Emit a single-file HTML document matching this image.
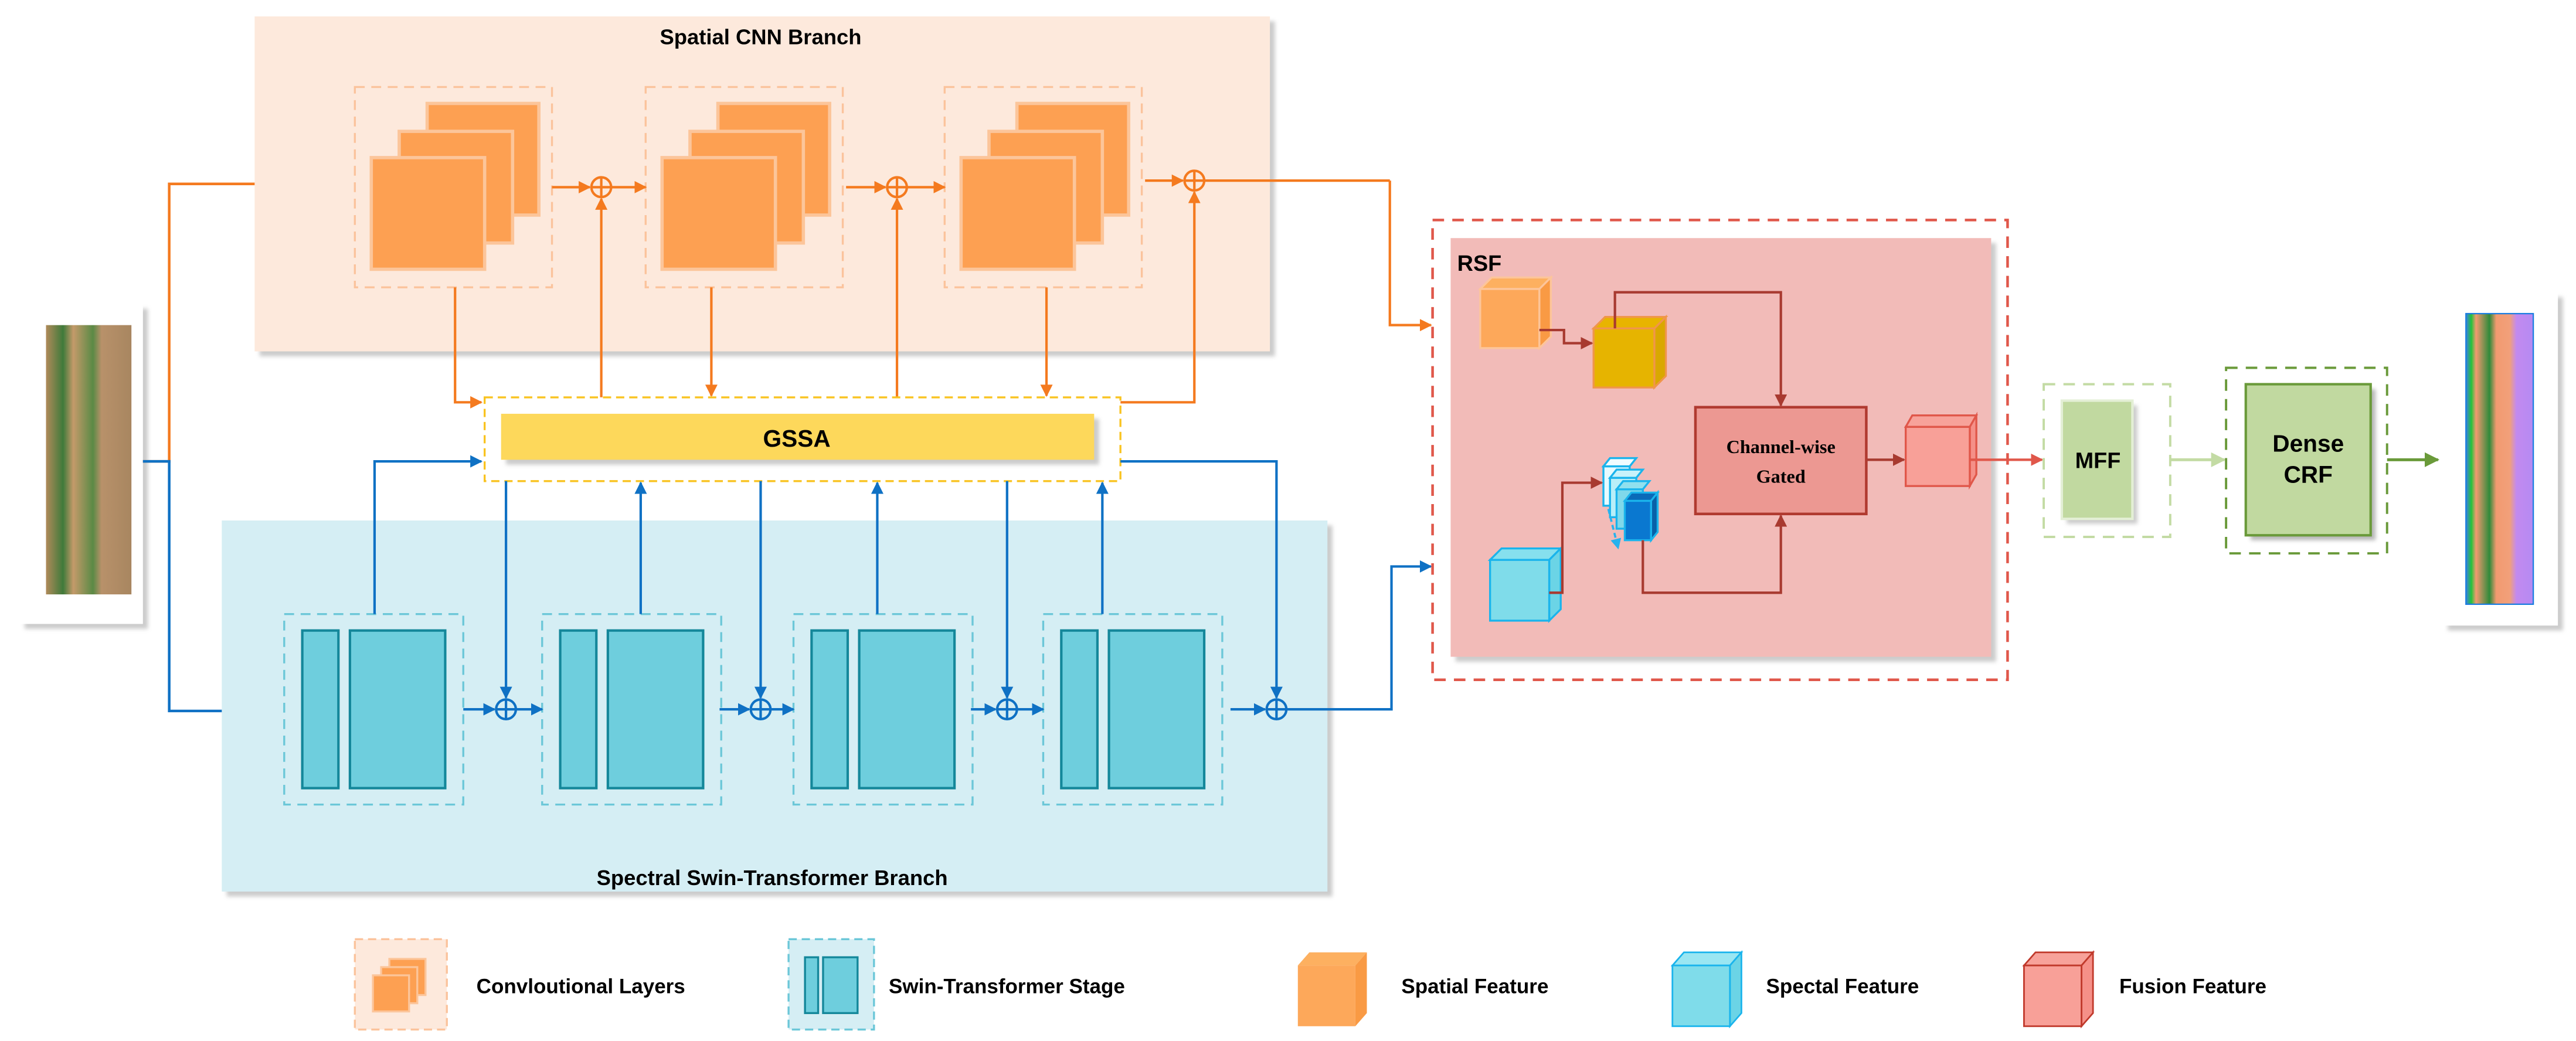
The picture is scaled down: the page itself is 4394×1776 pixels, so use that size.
<!DOCTYPE html>
<html><head><meta charset="utf-8"><style>html,body{margin:0;padding:0;background:#fff}svg{display:block}text{font-family:"Liberation Sans",sans-serif;font-weight:bold}</style></head><body>
<svg width="4394" height="1776" viewBox="0 0 1568 634" preserveAspectRatio="none" xmlns="http://www.w3.org/2000/svg">
<defs>
<marker id="ao" viewBox="0 0 10 10" refX="9" refY="5" markerWidth="5" markerHeight="5" orient="auto"><path d="M0,0L10,5L0,10z" fill="#f47a1f"/></marker>
<marker id="ab" viewBox="0 0 10 10" refX="9" refY="5" markerWidth="5" markerHeight="5" orient="auto"><path d="M0,0L10,5L0,10z" fill="#0f71c4"/></marker>
<marker id="ar" viewBox="0 0 10 10" refX="9" refY="5" markerWidth="5" markerHeight="5" orient="auto"><path d="M0,0L10,5L0,10z" fill="#a83a30"/></marker>
<marker id="ar2" viewBox="0 0 10 10" refX="9" refY="5" markerWidth="5" markerHeight="5" orient="auto"><path d="M0,0L10,5L0,10z" fill="#e0574a"/></marker>
<marker id="alg" viewBox="0 0 10 10" refX="9" refY="5" markerWidth="5" markerHeight="5" orient="auto"><path d="M0,0L10,5L0,10z" fill="#c3dba4"/></marker>
<marker id="adg" viewBox="0 0 10 10" refX="9" refY="5" markerWidth="5" markerHeight="5" orient="auto"><path d="M0,0L10,5L0,10z" fill="#6a9a3a"/></marker>
<marker id="alb" viewBox="0 0 10 10" refX="9" refY="5" markerWidth="5" markerHeight="5" orient="auto"><path d="M0,0L10,5L0,10z" fill="#27b2ee"/></marker>
<linearGradient id="sat" x1="0" x2="1"><stop offset="0" stop-color="#b08a5a"/><stop offset=".2" stop-color="#3f7a3a"/><stop offset=".32" stop-color="#c49a6a"/><stop offset=".55" stop-color="#5a8a45"/><stop offset=".65" stop-color="#b8916a"/><stop offset="1" stop-color="#a88660"/></linearGradient>
<linearGradient id="seg" x1="0" x2="1"><stop offset="0" stop-color="#3c7fe0"/><stop offset=".08" stop-color="#22c43a"/><stop offset=".15" stop-color="#f29a70"/><stop offset=".35" stop-color="#2f8a3a"/><stop offset=".45" stop-color="#f29a70"/><stop offset=".65" stop-color="#f2a07a"/><stop offset=".75" stop-color="#c28af0"/><stop offset="1" stop-color="#b58af2"/></linearGradient>
<filter id="sh" x="-10%" y="-10%" width="130%" height="130%"><feGaussianBlur stdDeviation="1.2"/></filter>
</defs>

<rect x="158" y="13" width="618" height="204" fill="#999" opacity=".5" filter="url(#sh)"/>
<rect x="155" y="10" width="618" height="204" fill="#fde9dc"/>
<text x="463" y="27" font-size="13" text-anchor="middle">Spatial CNN Branch</text>

<rect x="138" y="320" width="673" height="226" fill="#999" opacity=".5" filter="url(#sh)"/>
<rect x="135" y="317" width="673" height="226" fill="#d5eef4"/>
<text x="470" y="539" font-size="13" text-anchor="middle">Spectral Swin-Transformer Branch</text>

<rect x="15" y="188" width="75" height="195" fill="#999" opacity=".5" filter="url(#sh)"/>
<rect x="12" y="185" width="75" height="195" fill="#fff"/>
<rect x="28" y="198" width="52" height="164" fill="url(#sat)"/>

<polyline points="87,281 103,281 103,112 155,112" fill="none" stroke="#f47a1f" stroke-width="1.6"/>
<polyline points="87,281 103,281 103,433 135,433" fill="none" stroke="#0f71c4" stroke-width="1.6"/>

<g id="cg">
<rect x="216" y="53" width="120" height="122" fill="none" stroke="#fbc39c" stroke-width="1.2" stroke-dasharray="6,4"/>
<rect x="260" y="63" width="68" height="68" fill="#fda052" stroke="#fcc59a" stroke-width="2"/>
<rect x="243" y="80" width="69" height="68" fill="#fda052" stroke="#fcc59a" stroke-width="2"/>
<rect x="226" y="96" width="69" height="68" fill="#fda052" stroke="#fcc59a" stroke-width="2"/>
</g>
<use href="#cg" x="177"/>
<use href="#cg" x="359"/>

<g fill="none" stroke="#f47a1f" stroke-width="1.5">
<line x1="336" y1="114" x2="359" y2="114" marker-end="url(#ao)"/>
<line x1="372" y1="114" x2="393" y2="114" marker-end="url(#ao)"/>
<line x1="515" y1="114" x2="539" y2="114" marker-end="url(#ao)"/>
<line x1="552" y1="114" x2="575" y2="114" marker-end="url(#ao)"/>
<line x1="697" y1="110" x2="720" y2="110" marker-end="url(#ao)"/>
<line x1="733" y1="110" x2="846" y2="110"/>
<polyline points="846,110 846,198 871,198" marker-end="url(#ao)"/>
<polyline points="277,175 277,245 293,245" marker-end="url(#ao)"/>
<line x1="433" y1="175" x2="433" y2="241" marker-end="url(#ao)"/>
<line x1="637" y1="175" x2="637" y2="241" marker-end="url(#ao)"/>
<line x1="366" y1="242" x2="366" y2="121" marker-end="url(#ao)"/>
<line x1="546" y1="242" x2="546" y2="121" marker-end="url(#ao)"/>
<polyline points="682,245 727,245 727,117" marker-end="url(#ao)"/>
<circle cx="366" cy="114" r="6"/><line x1="360" y1="114" x2="372" y2="114"/><line x1="366" y1="108" x2="366" y2="120"/>
<circle cx="546" cy="114" r="6"/><line x1="540" y1="114" x2="552" y2="114"/><line x1="546" y1="108" x2="546" y2="120"/>
<circle cx="727" cy="110" r="6"/><line x1="721" y1="110" x2="733" y2="110"/><line x1="727" y1="104" x2="727" y2="116"/>
</g>

<rect x="295" y="242" width="387" height="51" fill="#fff" stroke="#f9c320" stroke-width="1.2" stroke-dasharray="5,3"/>
<rect x="308" y="255" width="361" height="28" fill="#999" opacity=".5" filter="url(#sh)"/>
<rect x="305" y="252" width="361" height="28" fill="#fdd85b"/>
<text x="485" y="272" font-size="14.5" text-anchor="middle">GSSA</text>

<g id="sg">
<rect x="173" y="374" width="109" height="116" fill="none" stroke="#6cc7d8" stroke-width="1.2" stroke-dasharray="6,4"/>
<rect x="184" y="384" width="22" height="96" fill="#6ecedd" stroke="#14879a" stroke-width="1.5"/>
<rect x="213" y="384" width="58" height="96" fill="#6ecedd" stroke="#14879a" stroke-width="1.5"/>
</g>
<use href="#sg" x="157"/>
<use href="#sg" x="310"/>
<use href="#sg" x="462"/>

<g fill="none" stroke="#0f71c4" stroke-width="1.5">
<polyline points="228,374 228,281 293,281" marker-end="url(#ab)"/>
<line x1="282" y1="432" x2="301" y2="432" marker-end="url(#ab)"/>
<line x1="314" y1="432" x2="330" y2="432" marker-end="url(#ab)"/>
<line x1="438" y1="432" x2="456" y2="432" marker-end="url(#ab)"/>
<line x1="469" y1="432" x2="483" y2="432" marker-end="url(#ab)"/>
<line x1="591" y1="432" x2="606" y2="432" marker-end="url(#ab)"/>
<line x1="619" y1="432" x2="635" y2="432" marker-end="url(#ab)"/>
<line x1="749" y1="432" x2="770" y2="432" marker-end="url(#ab)"/>
<polyline points="783,432 847,432 847,345 871,345" marker-end="url(#ab)"/>
<line x1="308" y1="293" x2="308" y2="425" marker-end="url(#ab)"/>
<line x1="463" y1="293" x2="463" y2="425" marker-end="url(#ab)"/>
<line x1="613" y1="293" x2="613" y2="425" marker-end="url(#ab)"/>
<polyline points="682,281 777,281 777,425" marker-end="url(#ab)"/>
<line x1="390" y1="374" x2="390" y2="294" marker-end="url(#ab)"/>
<line x1="534" y1="374" x2="534" y2="294" marker-end="url(#ab)"/>
<line x1="671" y1="374" x2="671" y2="294" marker-end="url(#ab)"/>
<circle cx="308" cy="432" r="6"/><line x1="302" y1="432" x2="314" y2="432"/><line x1="308" y1="426" x2="308" y2="438"/>
<circle cx="463" cy="432" r="6"/><line x1="457" y1="432" x2="469" y2="432"/><line x1="463" y1="426" x2="463" y2="438"/>
<circle cx="613" cy="432" r="6"/><line x1="607" y1="432" x2="619" y2="432"/><line x1="613" y1="426" x2="613" y2="438"/>
<circle cx="777" cy="432" r="6"/><line x1="771" y1="432" x2="783" y2="432"/><line x1="777" y1="426" x2="777" y2="438"/>
</g>

<rect x="886" y="148" width="329" height="255" fill="#999" opacity=".5" filter="url(#sh)"/>
<rect x="883" y="145" width="329" height="255" fill="#f2bbb8"/>
<rect x="872" y="134" width="350" height="280" fill="none" stroke="#e0574a" stroke-width="1.6" stroke-dasharray="7,5"/>
<text x="887" y="165" font-size="13.5">RSF</text>

<g stroke-width="1.2">
<polygon points="901,176 908,169 944,169 937,176" fill="#fdb060" stroke="#fdc59a"/>
<polygon points="937,176 944,169 944,205 937,212" fill="#f99a44" stroke="#fdc59a"/>
<rect x="901" y="176" width="36" height="36" fill="#fda85a" stroke="#fdc59a"/>
<polygon points="970,200 977,193 1014,193 1007,200" fill="#e8b400" stroke="#f0964a"/>
<polygon points="1007,200 1014,193 1014,229 1007,236" fill="#d9a800" stroke="#f0964a"/>
<rect x="970" y="200" width="37" height="36" fill="#e6b400" stroke="#f0964a"/>
<polygon points="907,341 914,334 950,334 943,341" fill="#86e0ee" stroke="#1ab4ec"/>
<polygon points="943,341 950,334 950,371 943,378" fill="#6bd4e6" stroke="#1ab4ec"/>
<rect x="907" y="341" width="36" height="37" fill="#7fdcea" stroke="#1ab4ec"/>
<polygon points="1160,260 1164,253 1203,253 1199,260" fill="#f7a29a" stroke="#e0574a"/>
<polygon points="1199,260 1203,253 1203,289 1199,296" fill="#f59088" stroke="#e0574a"/>
<rect x="1160" y="260" width="39" height="36" fill="#f8a098" stroke="#e0574a"/>
<rect x="976" y="284" width="16" height="24" fill="#e6fbff" stroke="#1ab4ec"/>
<polygon points="976,284 980,279 996,279 992,284" fill="#f0fcff" stroke="#1ab4ec"/>
<rect x="980" y="291" width="16" height="24" fill="#b8eef8" stroke="#1ab4ec"/>
<polygon points="980,291 984,286 1000,286 996,291" fill="#c8f2fa" stroke="#1ab4ec"/>
<rect x="984" y="298" width="16" height="24" fill="#80d8ea" stroke="#1ab4ec"/>
<polygon points="984,298 988,293 1004,293 1000,298" fill="#90e0ee" stroke="#1ab4ec"/>
<rect x="989" y="305" width="16" height="24" fill="#0a78d0" stroke="#1ab4ec"/>
<polygon points="989,305 993,300 1009,300 1005,305" fill="#0a6ab8" stroke="#1ab4ec"/>
<polygon points="1005,305 1009,300 1009,324 1005,329" fill="#0860a8" stroke="#1ab4ec"/>
</g>
<line x1="979" y1="310" x2="985" y2="334" stroke="#27b2ee" stroke-width="1.3" stroke-dasharray="3,2" marker-end="url(#alb)"/>

<g fill="none" stroke="#a83a30" stroke-width="1.5">
<polyline points="937,201 952,201 952,209 969,209" marker-end="url(#ar)"/>
<polyline points="983,200 983,178 1084,178 1084,247" marker-end="url(#ar)"/>
<polyline points="943,361 951,361 951,294 975,294" marker-end="url(#ar)"/>
<polyline points="1000,329 1000,361 1084,361 1084,314" marker-end="url(#ar)"/>
<line x1="1136" y1="280" x2="1159" y2="280" marker-end="url(#ar)"/>
</g>
<line x1="1199" y1="280" x2="1243" y2="280" stroke="#e0574a" stroke-width="1.5" marker-end="url(#ar2)"/>

<rect x="1032" y="248" width="104" height="65" fill="#ec9892" stroke="#b03a30" stroke-width="1.6"/>
<text x="1084" y="276" font-size="11.5" text-anchor="middle" style="font-family:'Liberation Serif',serif">Channel-wise</text>
<text x="1084" y="294" font-size="11.5" text-anchor="middle" style="font-family:'Liberation Serif',serif">Gated</text>

<rect x="1244" y="234" width="77" height="93" fill="none" stroke="#c3dba4" stroke-width="1.4" stroke-dasharray="7,5"/>
<rect x="1258" y="247" width="43" height="72" fill="#999" opacity=".5" filter="url(#sh)"/>
<rect x="1255" y="244" width="43" height="72" fill="#c1d9a0" stroke="#e4efd6" stroke-width="1.5"/>
<text x="1277" y="285" font-size="13.5" text-anchor="middle">MFF</text>
<line x1="1321" y1="280" x2="1354" y2="280" stroke="#c3dba4" stroke-width="1.8" marker-end="url(#alg)"/>

<rect x="1355" y="224" width="98" height="113" fill="none" stroke="#6a9a3a" stroke-width="1.4" stroke-dasharray="7,5"/>
<rect x="1370" y="237" width="76" height="92" fill="#888" opacity=".6" filter="url(#sh)"/>
<rect x="1367" y="234" width="76" height="92" fill="#c1d9a0" stroke="#6a9a3a" stroke-width="1.5"/>
<text x="1405" y="275" font-size="14.5" text-anchor="middle">Dense</text>
<text x="1405" y="294" font-size="14.5" text-anchor="middle">CRF</text>
<line x1="1453" y1="280" x2="1484" y2="280" stroke="#6a9a3a" stroke-width="1.8" marker-end="url(#adg)"/>

<rect x="1490" y="181" width="70" height="203" fill="#999" opacity=".5" filter="url(#sh)"/>
<rect x="1487" y="178" width="70" height="203" fill="#fff"/>
<rect x="1501" y="191" width="41" height="177" fill="url(#seg)" stroke="#1a7de0" stroke-width=".8"/>

<rect x="216" y="572" width="56" height="55" fill="#fde9dc" stroke="#fbc39c" stroke-width="1.2" stroke-dasharray="5,3"/>
<rect x="237" y="584" width="22" height="22" fill="#fda052" stroke="#fcc59a" stroke-width="1.2"/>
<rect x="232" y="589" width="22" height="22" fill="#fda052" stroke="#fcc59a" stroke-width="1.2"/>
<rect x="227" y="594" width="22" height="22" fill="#fda052" stroke="#fcc59a" stroke-width="1.2"/>
<text x="290" y="605" font-size="12.5">Convloutional Layers</text>
<rect x="480" y="572" width="52" height="55" fill="#d5eef4" stroke="#6cc7d8" stroke-width="1.2" stroke-dasharray="5,3"/>
<rect x="490" y="583" width="8" height="34" fill="#6ecedd" stroke="#14879a" stroke-width="1.2"/>
<rect x="501" y="583" width="21" height="34" fill="#6ecedd" stroke="#14879a" stroke-width="1.2"/>
<text x="541" y="605" font-size="12.5">Swin-Transformer Stage</text>
<polygon points="790,588 797,580 832,580 825,588" fill="#fdb060"/>
<polygon points="825,588 832,580 832,617 825,625" fill="#f99a44"/>
<rect x="790" y="588" width="35" height="37" fill="#fda85a"/>
<text x="853" y="605" font-size="12.5">Spatial Feature</text>
<polygon points="1018,588 1025,580 1060,580 1053,588" fill="#9ae6f2" stroke="#1ab4ec"/>
<polygon points="1053,588 1060,580 1060,617 1053,625" fill="#6bd4e6" stroke="#1ab4ec"/>
<rect x="1018" y="588" width="35" height="37" fill="#7fdcea" stroke="#1ab4ec"/>
<text x="1075" y="605" font-size="12.5">Spectal Feature</text>
<polygon points="1232,588 1239,580 1274,580 1267,588" fill="#f7a29a" stroke="#c0392b"/>
<polygon points="1267,588 1274,580 1274,617 1267,625" fill="#f59088" stroke="#c0392b"/>
<rect x="1232" y="588" width="35" height="37" fill="#f8a098" stroke="#c0392b"/>
<text x="1290" y="605" font-size="12.5">Fusion Feature</text>
</svg>
</body></html>
